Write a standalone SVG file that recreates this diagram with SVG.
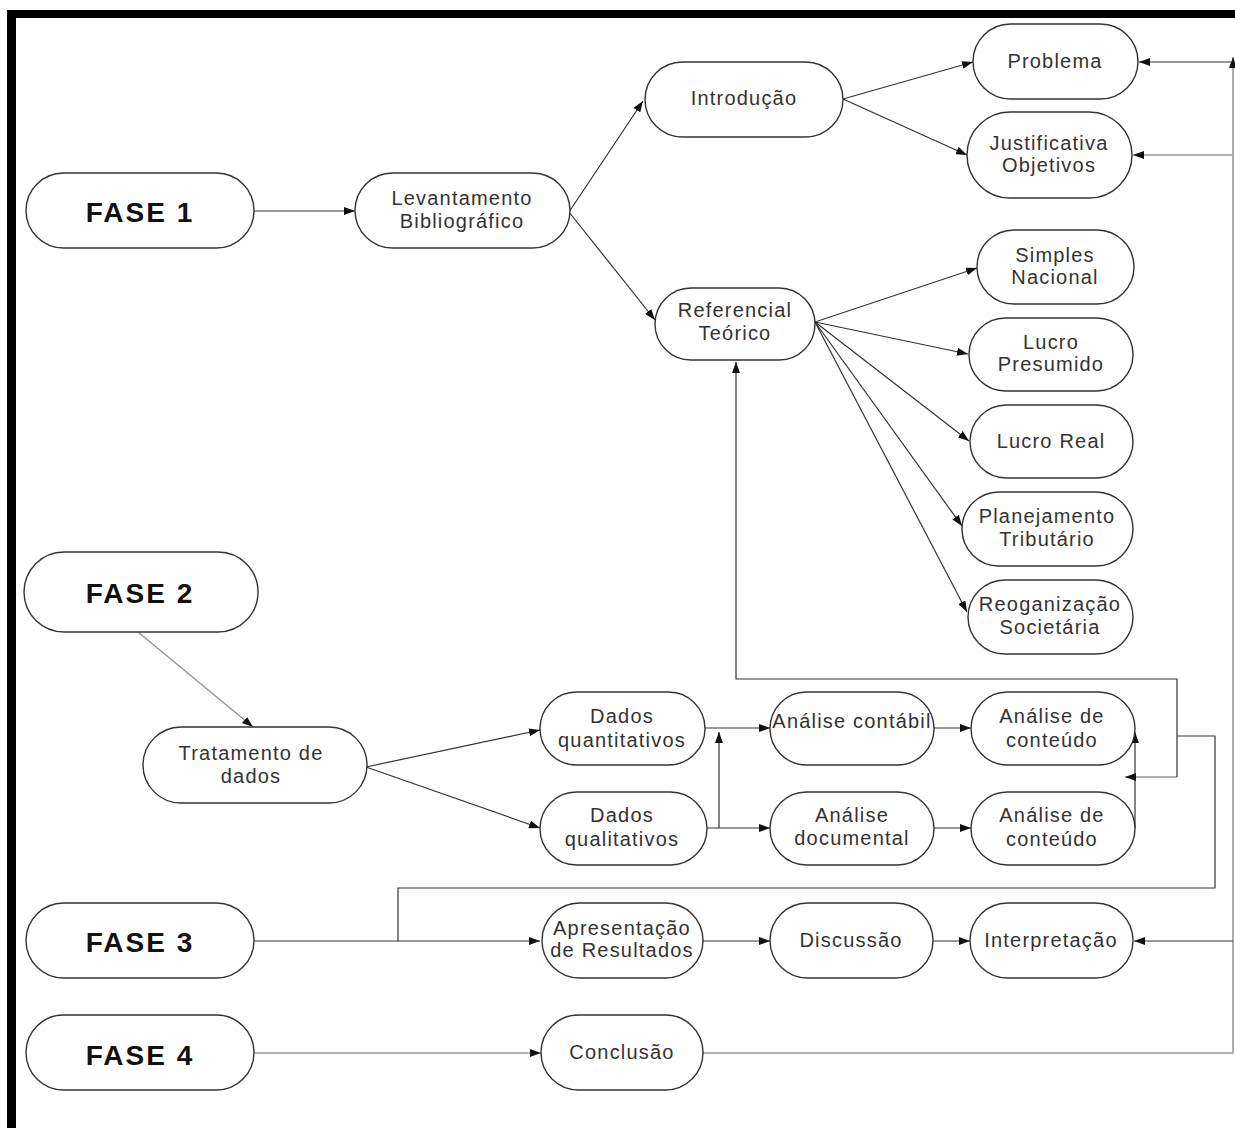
<svg xmlns="http://www.w3.org/2000/svg" width="1235" height="1128" viewBox="0 0 1235 1128">
<style>
.n rect{fill:#fff;stroke:#333;stroke-width:1.4}
.t{font-family:"Liberation Sans",Arial,sans-serif;font-size:20px;letter-spacing:1.2px;fill:#333;text-anchor:middle}
.f{font-family:"Liberation Sans",Arial,sans-serif;font-size:28px;font-weight:bold;letter-spacing:2px;fill:#111;text-anchor:middle}
.c path{fill:none;stroke:#333;stroke-width:1.2}
.c path.g{stroke:#999;stroke-width:1.6}
.c path.a{marker-end:url(#ah)}
</style>
<defs>
<marker id="ah" markerUnits="userSpaceOnUse" markerWidth="11" markerHeight="8" refX="11" refY="4" orient="auto">
<path d="M0,0 L11,4 L0,8 z" fill="#111"/>
</marker>
</defs>
<rect x="0" y="0" width="1235" height="1128" fill="#fff"/>
<g id="frame">
<rect x="7" y="10" width="1228" height="8" fill="#000"/>
<rect x="7" y="10" width="9" height="1118" fill="#000"/>
</g>
<g id="connectors" class="c">
<path class="a" d="M254,211 H355"/>
<path class="a" d="M569,212 L643,101"/>
<path class="a" d="M569,212 L655,320"/>
<path class="a" d="M843,99 L973,62"/>
<path class="a" d="M843,99 L967,155"/>
<path class="a" d="M815,322 L977,268"/>
<path class="a" d="M815,322 L968,354"/>
<path class="a" d="M815,322 L969,441"/>
<path class="a" d="M815,322 L962,526"/>
<path class="a" d="M815,322 L967,612"/>
<path class="a g" d="M703,1053 H1233 V57"/>
<path class="a" d="M1233,62 H1139"/>
<path class="a g" d="M1233,155 H1133"/>
<path class="a" d="M1233,941 H1134"/>
<path class="a g" d="M138,632 L253,727"/>
<path class="a" d="M366,767 L540,730"/>
<path class="a" d="M366,767 L540,828"/>
<path class="a" d="M705,728 H770"/>
<path class="a" d="M707,828 H770"/>
<path class="a" d="M719,828 V732"/>
<path class="a" d="M934,728 H971"/>
<path class="a" d="M934,828 H971"/>
<path class="a" d="M1135,828 V732"/>
<path class="a g" d="M1177,777 H1125"/>
<path class="a" d="M1177,777 V679 H736 V362"/>
<path d="M1177,736 H1215 V888 H398 V941"/>
<path class="a" d="M254,941 H540"/>
<path class="a" d="M703,941 H770"/>
<path class="a" d="M933,941 H970"/>
<path class="a g" d="M254,1053 H541"/>
</g>
<g id="fase1" class="n"><rect x="26" y="173" width="228" height="75" rx="37.5"/><text class="f" x="140" y="222">FASE 1</text></g>
<g id="levantamento" class="n"><rect x="355" y="173" width="215" height="75" rx="37.5"/><text class="t" x="462" y="205">Levantamento</text><text class="t" x="462" y="228">Bibliográfico</text></g>
<g id="introducao" class="n"><rect x="645" y="62" width="198" height="75" rx="37.5"/><text class="t" x="744" y="105">Introdução</text></g>
<g id="problema" class="n"><rect x="973" y="24" width="165" height="75" rx="37.5"/><text class="t" x="1055" y="68">Problema</text></g>
<g id="justificativa" class="n"><rect x="967" y="112" width="165" height="86" rx="43"/><text class="t" x="1049" y="150">Justificativa</text><text class="t" x="1049" y="172">Objetivos</text></g>
<g id="simples" class="n"><rect x="977" y="230" width="157" height="74" rx="37"/><text class="t" x="1055" y="262">Simples</text><text class="t" x="1055" y="284">Nacional</text></g>
<g id="referencial" class="n"><rect x="655" y="288" width="160" height="72" rx="36"/><text class="t" x="735" y="317">Referencial</text><text class="t" x="735" y="340">Teórico</text></g>
<g id="lucropresumido" class="n"><rect x="969" y="318" width="164" height="73" rx="36.5"/><text class="t" x="1051" y="349">Lucro</text><text class="t" x="1051" y="371">Presumido</text></g>
<g id="lucroreal" class="n"><rect x="970" y="405" width="163" height="73" rx="36.5"/><text class="t" x="1051" y="448">Lucro Real</text></g>
<g id="planejamento" class="n"><rect x="962" y="492" width="171" height="74" rx="37"/><text class="t" x="1047" y="523">Planejamento</text><text class="t" x="1047" y="546">Tributário</text></g>
<g id="reoganizacao" class="n"><rect x="968" y="580" width="165" height="74" rx="37"/><text class="t" x="1050" y="611">Reoganização</text><text class="t" x="1050" y="634">Societária</text></g>
<g id="fase2" class="n"><rect x="24" y="552" width="234" height="80" rx="40"/><text class="f" x="140" y="603">FASE 2</text></g>
<g id="tratamento" class="n"><rect x="143" y="727" width="224" height="76" rx="38"/><text class="t" x="251" y="760">Tratamento de</text><text class="t" x="251" y="783">dados</text></g>
<g id="dadosquant" class="n"><rect x="540" y="692" width="165" height="73" rx="36.5"/><text class="t" x="622" y="723">Dados</text><text class="t" x="622" y="747">quantitativos</text></g>
<g id="dadosqual" class="n"><rect x="540" y="792" width="167" height="73" rx="36.5"/><text class="t" x="622" y="822">Dados</text><text class="t" x="622" y="846">qualitativos</text></g>
<g id="analisecontabil" class="n"><rect x="770" y="692" width="164" height="73" rx="36.5"/><text class="t" x="852" y="728">Análise contábil</text></g>
<g id="analisedocumental" class="n"><rect x="770" y="792" width="164" height="73" rx="36.5"/><text class="t" x="852" y="822">Análise</text><text class="t" x="852" y="845">documental</text></g>
<g id="conteudo1" class="n"><rect x="971" y="692" width="164" height="73" rx="36.5"/><text class="t" x="1052" y="723">Análise de</text><text class="t" x="1052" y="747">conteúdo</text></g>
<g id="conteudo2" class="n"><rect x="971" y="792" width="164" height="73" rx="36.5"/><text class="t" x="1052" y="822">Análise de</text><text class="t" x="1052" y="846">conteúdo</text></g>
<g id="fase3" class="n"><rect x="26" y="903" width="228" height="75" rx="37.5"/><text class="f" x="140" y="952">FASE 3</text></g>
<g id="apresentacao" class="n"><rect x="542" y="903" width="161" height="75" rx="37.5"/><text class="t" x="622" y="935">Apresentação</text><text class="t" x="622" y="957">de Resultados</text></g>
<g id="discussao" class="n"><rect x="770" y="903" width="163" height="75" rx="37.5"/><text class="t" x="851" y="947">Discussão</text></g>
<g id="interpretacao" class="n"><rect x="970" y="903" width="163" height="75" rx="37.5"/><text class="t" x="1051" y="947">Interpretação</text></g>
<g id="fase4" class="n"><rect x="26" y="1015" width="228" height="75" rx="37.5"/><text class="f" x="140" y="1065">FASE 4</text></g>
<g id="conclusao" class="n"><rect x="541" y="1015" width="162" height="75" rx="37.5"/><text class="t" x="622" y="1059">Conclusão</text></g>
</svg>
